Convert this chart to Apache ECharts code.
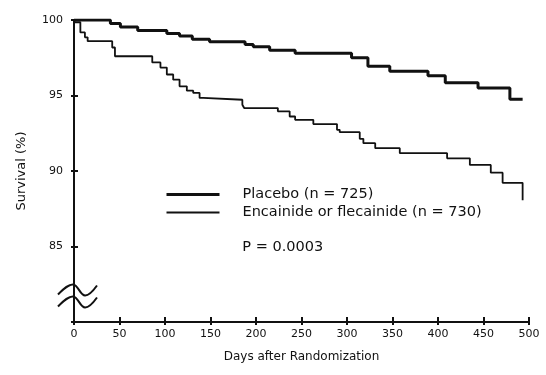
<!DOCTYPE html>
<html>
<head>
<meta charset="utf-8">
<script src="https://cdn.jsdelivr.net/npm/echarts@6/dist/echarts.min.js"></script>
<style>
  html, body { margin: 0; padding: 0; background: #fff; }
  #chart { width: 546px; height: 375px; }
</style>
</head>
<body>
<div id="chart"></div>
<script>
// Kaplan-Meier survival
const placeboDays = [0, 36, 40, 51, 70, 102, 116, 130, 149, 188, 197, 215, 243, 305, 323, 347, 389, 408, 444, 479, 493]
const placeboSurv = [100, 100, 99.76, 99.53, 99.31, 99.1, 98.94, 98.72, 98.56, 98.38, 98.23, 98.0, 97.8, 97.5, 96.94, 96.6, 96.3, 95.85, 95.5, 94.75, 94.75]

const drugDays = [0, 1, 7, 12, 15, 42, 45, 86, 95, 102, 109, 116, 124, 131, 138, 142, 185, 187, 224, 237, 243, 263, 289, 292, 314, 318, 331, 358, 410, 435, 458, 471, 493]
const drugSurv = [100, 99.85, 99.18, 98.85, 98.6, 98.18, 97.6, 97.19, 96.85, 96.39, 96.05, 95.61, 95.32, 95.17, 94.84, 94.72, 94.39, 94.17, 93.95, 93.61, 93.39, 93.11, 92.73, 92.57, 92.13, 91.84, 91.51, 91.18, 90.84, 90.4, 89.89, 89.22, 88.07]

const seriesNames = ['Placebo (n = 725)', 'Encainide or flecainide (n = 730)']
const pValueText = 'P = 0.0003'

const FONT = 'DejaVu Sans'
const INK = '#111'

const zip = (xs, ys) => xs.map((x, i) => [x, ys[i]])

const chart = echarts.init(document.getElementById('chart'))

const baseX = {
  type: 'value',
  min: 0,
  max: 500,
  interval: 50,
  splitLine: { show: false },
}
const baseY = {
  type: 'value',
  min: 80,
  max: 100,
  interval: 5,
  splitLine: { show: false },
}

chart.setOption({
  animation: false,
  backgroundColor: '#fff',
  grid: { left: 74, right: 17, top: 20, bottom: 53 },
  legend: {
    orient: 'vertical',
    left: 165,
    top: 187,
    padding: 0,
    itemWidth: 53,
    itemHeight: 14,
    itemGap: 3,
    data: seriesNames,
    itemStyle: { opacity: 0 }, // keep only the line in the key, no marker
    lineStyle: { width: 'inherit' },
    textStyle: { fontFamily: FONT, fontSize: 14.5, color: INK, padding: [0, 0, 0, 18] },
  },
  xAxis: [
    {
      ...baseX,
      name: 'Days after Randomization',
      nameLocation: 'middle',
      nameGap: 29,
      nameTextStyle: { fontFamily: FONT, fontSize: 12, color: INK },
      axisLine: { lineStyle: { color: INK, width: 2 } },
      axisTick: { length: 3, lineStyle: { color: INK, width: 2 } },
      axisLabel: { fontFamily: FONT, fontSize: 11, color: INK, margin: 7 },
    },
    {
      ...baseX,
      gridIndex: 0,
      position: 'bottom',
      axisLine: { show: false },
      axisTick: { inside: true, length: 5, lineStyle: { color: INK, width: 2 } },
      axisLabel: { show: false },
    },
  ],
  yAxis: [
    {
      ...baseY,
      name: 'Survival (%)',
      nameLocation: 'middle',
      nameRotate: 90,
      nameGap: 46,
      nameTextStyle: { fontFamily: FONT, fontSize: 13, color: INK },
      axisLine: { lineStyle: { color: INK, width: 2 } },
      axisTick: { length: 3, lineStyle: { color: INK, width: 2 } },
      axisLabel: {
        fontFamily: FONT,
        fontSize: 11,
        color: INK,
        margin: 11,
        formatter: (v) => (v === 80 ? '' : String(v)),
      },
    },
    {
      ...baseY,
      gridIndex: 0,
      position: 'left',
      axisLine: { show: false },
      axisTick: { inside: true, length: 4, lineStyle: { color: INK, width: 2 } },
      axisLabel: { show: false },
    },
  ],
  series: [
    {
      name: seriesNames[0],
      type: 'line',
      step: 'end',
      symbol: 'none',
      data: zip(placeboDays, placeboSurv),
      lineStyle: { color: INK, width: 3 },
      itemStyle: { color: INK },
    },
    {
      name: seriesNames[1],
      type: 'line',
      step: 'end',
      symbol: 'none',
      data: zip(drugDays, drugSurv),
      lineStyle: { color: INK, width: 1.8 },
      itemStyle: { color: INK },
    },
  ],
})

// axis break squiggles + p-value note, anchored through the axes
const [bx, by] = chart.convertToPixel({ xAxisIndex: 0, yAxisIndex: 0 }, [0, 82.15])
const [px, py] = chart.convertToPixel({ xAxisIndex: 0, yAxisIndex: 0 }, [185, 84.95])
const wave = (dy) => ({
  type: 'polyline',
  shape: {
    points: [[bx - 16, by + dy + 5], [bx - 1, by + dy - 5], [bx + 11, by + dy + 6], [bx + 23, by + dy - 4]],
    smooth: 0.4,
  },
  style: { stroke: INK, lineWidth: 2, fill: null },
})
chart.setOption({
  graphic: [
    wave(0),
    wave(12),
    {
      type: 'text',
      x: px,
      y: py,
      style: { text: pValueText, fontFamily: FONT, fontSize: 14.5, fill: INK, verticalAlign: 'middle' },
    },
  ],
})
</script>
</body>
</html>
